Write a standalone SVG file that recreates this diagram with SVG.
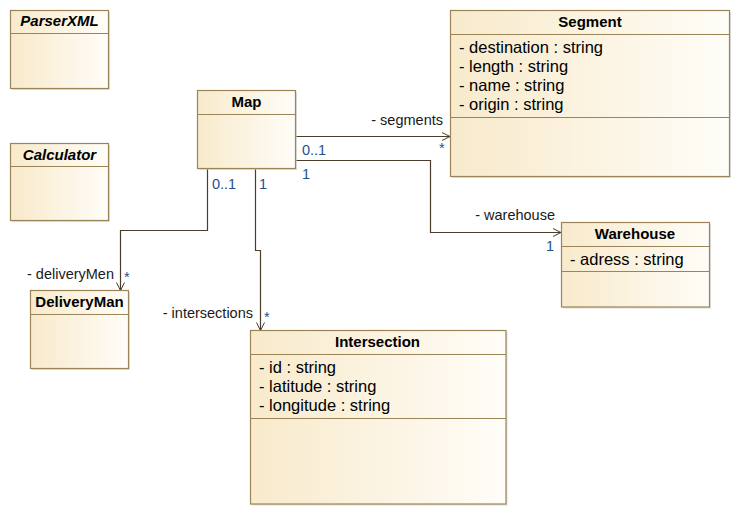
<svg xmlns="http://www.w3.org/2000/svg" width="741" height="516" viewBox="0 0 741 516">
<defs>
<linearGradient id="fill" x1="0" y1="0" x2="1" y2="0">
<stop offset="0" stop-color="#f8eacb"/>
<stop offset="1" stop-color="#fffdf8"/>
</linearGradient>
<marker id="open" markerWidth="12" markerHeight="12" refX="9" refY="5" orient="auto" markerUnits="userSpaceOnUse">
<path d="M1,1 L9,5 L1,9" fill="none" stroke="#4b3d2a" stroke-width="1"/>
</marker>
</defs>
<style>
.box{fill:url(#fill);stroke:#9a8458;stroke-width:1.2}
.shadow{fill:#c8c8c8;opacity:0.6}
.sep{stroke:#9a8458;stroke-width:1.2}
.title{font-family:"Liberation Sans",Arial,sans-serif;font-size:15px;font-weight:bold;fill:#000;text-anchor:middle}
.abs{font-style:italic}
.attr{font-family:"Liberation Sans",Arial,sans-serif;font-size:16.5px;fill:#000}
.lbl{font-family:"Liberation Sans",Arial,sans-serif;font-size:14.5px;fill:#1a1a1a}
.mul{font-family:"Liberation Sans",Arial,sans-serif;font-size:14.5px;fill:#1f4f8f}
.conn{fill:none;stroke:#4b3d2a;stroke-width:1.2}
</style>
<rect width="741" height="516" fill="#fff"/>

<g id="connectors">
<path class="conn" d="M295,136.5 H450" marker-end="url(#open)"/>
<path class="conn" d="M295,160.5 H430.5 V232.5 H561" marker-end="url(#open)"/>
<path class="conn" d="M207.5,168.5 V230.5 H120.5 V290.5" marker-end="url(#open)"/>
<path class="conn" d="M255.5,168.5 V250.5 H260.5 V330.5" marker-end="url(#open)"/>
<text class="lbl" x="443" y="125" text-anchor="end">- segments</text>
<text class="mul" x="439" y="153">*</text>
<text class="mul" x="302" y="155">0..1</text>
<text class="mul" x="302" y="179">1</text>
<text class="mul" x="212" y="189">0..1</text>
<text class="mul" x="259" y="189">1</text>
<text class="lbl" x="555" y="220" text-anchor="end">- warehouse</text>
<text class="mul" x="546" y="251">1</text>
<text class="lbl" x="114" y="279" text-anchor="end">- deliveryMen</text>
<text class="mul" x="124" y="282">*</text>
<text class="lbl" x="253" y="318" text-anchor="end">- intersections</text>
<text class="mul" x="264" y="322">*</text>
</g>

<g id="ParserXML">
<rect class="shadow" x="12" y="12" width="98" height="78"/>
<rect class="box" x="10.5" y="10.5" width="98" height="78"/>
<line class="sep" x1="10.5" y1="33.5" x2="108.5" y2="33.5"/>
<text class="title abs" x="59.5" y="26">ParserXML</text>
</g>

<g id="Calculator">
<rect class="shadow" x="12" y="145" width="98" height="77"/>
<rect class="box" x="10.5" y="143.5" width="98" height="77"/>
<line class="sep" x1="10.5" y1="166.5" x2="108.5" y2="166.5"/>
<text class="title abs" x="59.5" y="160">Calculator</text>
</g>

<g id="Map">
<rect class="shadow" x="199" y="92" width="98" height="78"/>
<rect class="box" x="197.5" y="90.5" width="98" height="78"/>
<line class="sep" x1="197.5" y1="114.5" x2="295.5" y2="114.5"/>
<text class="title" x="246.5" y="107">Map</text>
</g>

<g id="Segment">
<rect class="shadow" x="452" y="12" width="279" height="166"/>
<rect class="box" x="450.5" y="10.5" width="279" height="166"/>
<line class="sep" x1="450.5" y1="34.5" x2="729.5" y2="34.5"/>
<line class="sep" x1="450.5" y1="117.5" x2="729.5" y2="117.5"/>
<text class="title" x="590" y="27">Segment</text>
<text class="attr" x="459" y="53">- destination : string</text>
<text class="attr" x="459" y="72">- length : string</text>
<text class="attr" x="459" y="91">- name : string</text>
<text class="attr" x="459" y="110">- origin : string</text>
</g>

<g id="Warehouse">
<rect class="shadow" x="563" y="224" width="148" height="84.5"/>
<rect class="box" x="561.5" y="222.5" width="148" height="84.5"/>
<line class="sep" x1="561.5" y1="246.5" x2="709.5" y2="246.5"/>
<line class="sep" x1="561.5" y1="271.5" x2="709.5" y2="271.5"/>
<text class="title" x="635" y="239">Warehouse</text>
<text class="attr" x="570" y="265">- adress : string</text>
</g>

<g id="DeliveryMan">
<rect class="shadow" x="32" y="292" width="98" height="78"/>
<rect class="box" x="30.5" y="290.5" width="98" height="78"/>
<line class="sep" x1="30.5" y1="314.5" x2="128.5" y2="314.5"/>
<text class="title" x="79.5" y="307">DeliveryMan</text>
</g>

<g id="Intersection">
<rect class="shadow" x="252" y="332" width="255.5" height="173.5"/>
<rect class="box" x="250.5" y="330.5" width="255.5" height="173.5"/>
<line class="sep" x1="250.5" y1="354.5" x2="506" y2="354.5"/>
<line class="sep" x1="250.5" y1="418.5" x2="506" y2="418.5"/>
<text class="title" x="377.5" y="347">Intersection</text>
<text class="attr" x="259" y="373">- id : string</text>
<text class="attr" x="259" y="392">- latitude : string</text>
<text class="attr" x="259" y="411">- longitude : string</text>
</g>
</svg>
